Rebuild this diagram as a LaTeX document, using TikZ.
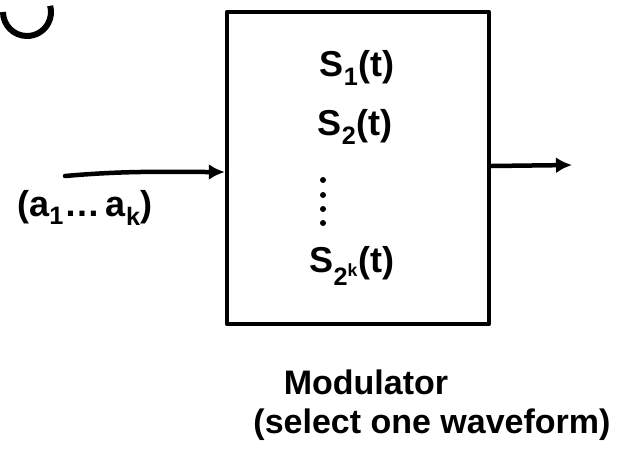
\documentclass[tikz,border=0pt]{standalone}
\usepackage{fontspec}
\setmainfont{Liberation Sans}
\usetikzlibrary{arrows.meta}
\begin{document}
\begin{tikzpicture}[x=1pt,y=-1pt,
  ink/.style={line width=4.5pt,line cap=round,line join=round},
  arr/.style={ink,-{Latex[length=16pt,width=16pt]}},
  lbl/.style={font=\bfseries\fontsize{36}{38}\selectfont,inner sep=0pt},
  captext/.style={font=\bfseries\fontsize{34}{36}\selectfont,inner sep=0pt},
  dot/.style={fill,circle,inner sep=0pt,minimum size=6pt}]
\useasboundingbox (0,0) rectangle (634,464);
\draw[line width=6pt] (3,12) arc[start angle=180,end angle=-15,radius=24];
\node[ink,draw,minimum width=262pt,minimum height=312pt,inner sep=0pt] (mod) at (358,168) {};
\node[lbl] (s1) at (357,68) {S\textsubscript{1}(t)};
\node[lbl] (s2) at (355,127) {S\textsubscript{2}(t)};
\node[dot] (d1) at (323,180) {};
\node[dot] (d2) at (323,195) {};
\node[dot] (d3) at (323,209) {};
\node[dot] (d4) at (323,223) {};
\node[lbl] (sn) at (352,266) {S\textsubscript{2\textsuperscript{k}}(t)};
\coordinate (in) at (65,176);
\coordinate (out) at (572,165);
\draw[arr] (in) to[out=5,in=180] (mod.west|-0,172);
\draw[arr] (mod.east|-0,166) -- (out);
\node[lbl] (bits) at (85,208) {(a\textsubscript{1}\ldots\,a\textsubscript{k})};
\node[captext] (name) at (366,382) {Modulator};
\node[captext] (sel) at (432,425) {(select one waveform)};
\end{tikzpicture}
\end{document}
